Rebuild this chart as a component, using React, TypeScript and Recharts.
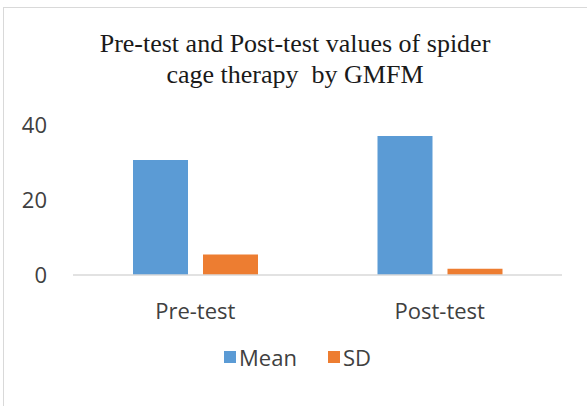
import React from "react";
import { BarChart, Bar, XAxis, YAxis, Legend } from "recharts";

const categories = ["Pre-test", "Post-test"];
const meanValues = [30.7, 37.1];
const sdValues = [5.5, 1.7];
const yTicks = [0, 20, 40];
const titleLines = ["Pre-test and Post-test values of spider", "cage therapy  by GMFM"];

const data = categories.map((c, i) => ({ name: c, Mean: meanValues[i], SD: sdValues[i] }));

const FONT = "'Open Sans', 'Noto Sans', sans-serif";

const LegendContent = (props: any) => {
  const payload = props.payload || [];
  return (
    <div style={{ display: "flex", justifyContent: "center", alignItems: "center", fontFamily: FONT, fontSize: 22, lineHeight: "24px", color: "#404040" }}>
      {payload.map((p: any, i: number) => (
        <div key={i} style={{ display: "flex", alignItems: "center", marginRight: i < payload.length - 1 ? 31 : 0 }}>
          <div style={{ width: 12, height: 12, background: p.color, marginRight: 3 }} />
          <span>{p.value}</span>
        </div>
      ))}
    </div>
  );
};

export default function App() {
  return (
    <div style={{ position: "absolute", left: 0, top: 0, width: 587, height: 406, background: "#fff", overflow: "hidden" }}>
      <div style={{ position: "absolute", left: 3, top: 7, width: 600, height: 420, borderTop: "1px solid #d9d9d9", borderLeft: "1px solid #d9d9d9", boxSizing: "border-box" }} />
      <BarChart
        width={587}
        height={406}
        data={data}
        margin={{ top: 125, right: 25, bottom: 71, left: 0 }}
        barGap={15}
        barSize={55}
      >
        <XAxis
          dataKey="name"
          height={60}
          axisLine={{ stroke: "#d9d9d9", strokeWidth: 1.5 }}
          tickLine={false}
          tickSize={0}
          tickMargin={28}
          tick={{ fill: "#404040", fontSize: 22, fontFamily: FONT }}
        />
        <YAxis
          width={73}
          domain={[0, 40]}
          ticks={yTicks}
          axisLine={false}
          tickLine={false}
          tickSize={0}
          tickMargin={26}
          tick={{ fill: "#404040", fontSize: 22, fontFamily: FONT }}
        />
        <Legend
          layout="horizontal"
          verticalAlign="middle"
          align="center"
          wrapperStyle={{ left: 0, top: 345, width: 595 }}
          content={<LegendContent />}
        />
        <Bar dataKey="Mean" fill="#5b9bd5" isAnimationActive={false} />
        <Bar dataKey="SD" fill="#ed7d31" isAnimationActive={false} />
      </BarChart>
      <svg width={587} height={110} style={{ position: "absolute", left: 0, top: 0, pointerEvents: "none" }}>
        {titleLines.map((t, i) => (
          <text
            key={i}
            x={295}
            y={52 + i * 31}
            textAnchor="middle"
            fontFamily="'Liberation Serif', 'Times New Roman', serif"
            fontSize={26}
            fill="#1a1a1a"
            style={{ whiteSpace: "pre" }}
          >
            {t}
          </text>
        ))}
      </svg>
    </div>
  );
}
